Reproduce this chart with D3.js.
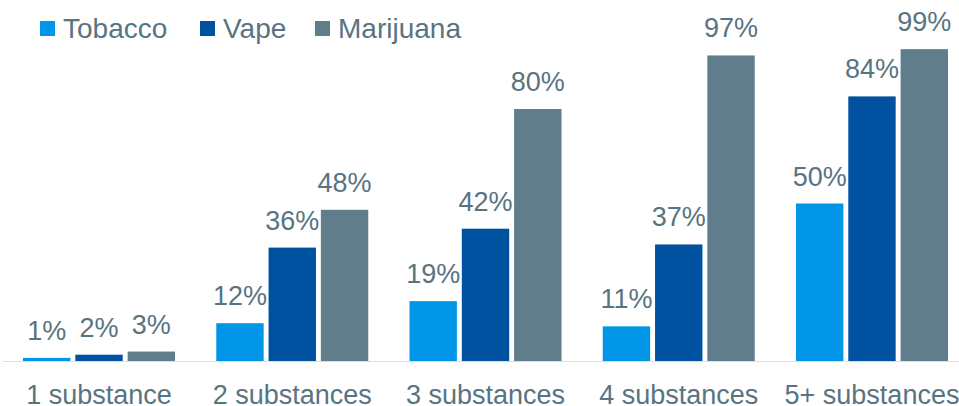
<!DOCTYPE html>
<html>
<head>
<meta charset="utf-8">
<script src="https://cdn.jsdelivr.net/npm/d3@7"></script>
<style>
  body { margin: 0; background: #fff; overflow: hidden; }
  text { font-family: "Liberation Sans", Arial, sans-serif; }
</style>
</head>
<body>
<div id="chart"></div>
<script>
const categories = ["1 substance", "2 substances", "3 substances", "4 substances", "5+ substances"];
const seriesNames = ["Tobacco", "Vape", "Marijuana"];
const tobacco = [1, 12, 19, 11, 50];
const vape = [2, 36, 42, 37, 84];
const marijuana = [3, 48, 80, 97, 99];
const colors = ["#0095e6", "#0052a0", "#607d8b"];

const width = 959;
const height = 406;
const baseline = 361;
const textColor = "#587482";

const svg = d3.select("#chart")
  .append("svg")
  .attr("width", width)
  .attr("height", height);

// table built from the arrays above
const values = [tobacco, vape, marijuana];
const rows = categories.map((c, i) => ({
  category: c,
  vals: seriesNames.map((s, j) => ({ series: s, value: values[j][i] }))
}));

// group scale (runs off the right edge like the original)
const x0 = d3.scaleBand()
  .domain(categories)
  .range([2.4, 968.6])
  .paddingInner(0.2135)
  .paddingOuter(0.1067);

const x1 = d3.scaleBand()
  .domain(seriesNames)
  .range([0, x0.bandwidth()])
  .paddingInner(0.094);

const y = d3.scaleLinear()
  .domain([0, 100])
  .range([baseline, 46]);

const color = d3.scaleOrdinal().domain(seriesNames).range(colors);

// bars
const groups = svg.selectAll(".group")
  .data(rows)
  .enter()
  .append("g")
  .attr("class", "group")
  .attr("transform", d => `translate(${x0(d.category)},0)`);

groups.selectAll("rect")
  .data(d => d.vals)
  .enter()
  .append("rect")
  .attr("x", d => x1(d.series))
  .attr("y", d => y(d.value))
  .attr("width", x1.bandwidth())
  .attr("height", d => y(0) - y(d.value))
  .attr("fill", d => color(d.series));

// value labels
groups.selectAll(".val")
  .data(d => d.vals)
  .enter()
  .append("text")
  .attr("class", "val")
  .attr("x", d => x1(d.series) + x1.bandwidth() / 2)
  .attr("y", d => y(d.value) - 18)
  .attr("text-anchor", "middle")
  .attr("font-size", 27)
  .attr("fill", textColor)
  .text(d => d.value + "%");

// x axis
const xAxis = d3.axisBottom(x0).tickSize(0).tickPadding(24);
const gx = svg.append("g")
  .attr("transform", `translate(0,${baseline})`)
  .call(xAxis);
gx.select(".domain").remove();
gx.selectAll("text")
  .attr("font-size", 27)
  .attr("fill", textColor)
  .style("font-family", "'Liberation Sans', Arial, sans-serif");

svg.append("line")
  .attr("x1", 3)
  .attr("x2", width)
  .attr("y1", baseline + 0.5)
  .attr("y2", baseline + 0.5)
  .attr("stroke", "#d9dfe3")
  .attr("stroke-width", 1.2);

// legend
const legendX = [40, 200, 315];
const legend = svg.selectAll(".legend")
  .data(seriesNames)
  .enter()
  .append("g")
  .attr("class", "legend")
  .attr("transform", (d, i) => `translate(${legendX[i]},0)`);

legend.append("rect")
  .attr("x", 0)
  .attr("y", 21)
  .attr("width", 15)
  .attr("height", 15)
  .attr("fill", d => color(d));

legend.append("text")
  .attr("x", 23)
  .attr("y", 38)
  .attr("font-size", 28)
  .attr("fill", textColor)
  .text(d => d);
</script>
</body>
</html>
